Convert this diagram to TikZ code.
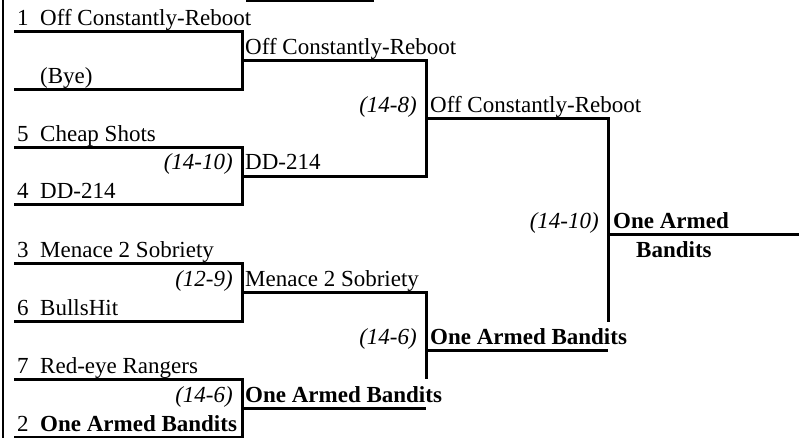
\documentclass[tikz,border=0pt]{standalone}
\usepackage{fontspec}
\setmainfont{Liberation Serif}
\begin{document}
\begin{tikzpicture}[x=1pt, y=-1pt,
  bline/.style={line width=3pt},
  team/.style={anchor=base west, inner sep=0pt, font=\fontsize{23}{27}\selectfont},
  win/.style={anchor=base west, inner sep=0pt, font=\fontsize{23}{27}\selectfont\bfseries},
  score/.style={anchor=base east, inner sep=0pt, font=\fontsize{23}{27}\selectfont\itshape}]
  \useasboundingbox (0,0) rectangle (799,438);

  % Frame
  \coordinate (F0) at (3,0);
  \coordinate (F1) at (3,438);
  \draw[line width=2pt] (F0) -- (F1);
  \coordinate (H0) at (246,1);
  \coordinate (H1) at (374,1);
  \draw[bline] (H0) -- (H1);

  % First round
  \coordinate (A1) at (14,32);
  \coordinate (A2) at (14,90);
  \coordinate (A3) at (14,148);
  \coordinate (A4) at (14,205);
  \coordinate (A5) at (14,263);
  \coordinate (A6) at (14,321);
  \coordinate (A7) at (14,379);
  \coordinate (A8) at (14,437);
  \draw[bline] (A1) -- (242,32) |- (A2);
  \draw[bline] (A3) -- (242,148) |- (A4);
  \draw[bline] (A5) -- (242,263) |- (A6);
  \draw[bline] (A7) -- (242,379) |- (A8);

  % Second round
  \coordinate (B1) at (242,61);
  \coordinate (B2) at (242,176.5);
  \coordinate (B3) at (242,292);
  \coordinate (B4) at (242,408);
  \coordinate (B4e) at (426,408);
  \draw[bline] (B1) -- (426,61) |- (B2);
  \draw[bline] (B3) -- (426,292) -- (426,379);
  \draw[bline] (B4) -- (B4e);

  % Third round
  \coordinate (C1) at (426,119);
  \coordinate (C2) at (426,350);
  \coordinate (C2e) at (608,350);
  \draw[bline] (C1) -- (608,119) -- (608,322);
  \draw[bline] (C2) -- (C2e);

  % Final
  \coordinate (D1) at (608,234.5);
  \coordinate (D1e) at (799,234.5);
  \draw[bline] (D1) -- (D1e);

  % Seeds
  \node[team] (s1) at (17,26) {1};
  \node[team] (s5) at (17,142) {5};
  \node[team] (s4) at (17,199) {4};
  \node[team] (s3) at (17,257) {3};
  \node[team] (s6) at (17,315) {6};
  \node[team] (s7) at (17,373) {7};
  \node[team] (s2) at (17,431) {2};

  % Teams
  \node[team] (t1) at (40,26) {Off Constantly-Reboot};
  \node[team] (t8) at (40,84) {(Bye)};
  \node[team] (t5) at (40,142) {Cheap Shots};
  \node[team] (t4) at (40,199) {DD-214};
  \node[team] (t3) at (40,257) {Menace 2 Sobriety};
  \node[team] (t6) at (40,315) {BullsHit};
  \node[team] (t7) at (40,373) {Red-eye Rangers};
  \node[win] (t2) at (40,431) {One Armed Bandits};

  \node[team] (w1) at (245,55) {Off Constantly-Reboot};
  \node[team] (w2) at (245,170) {DD-214};
  \node[team] (w3) at (245,286) {Menace 2 Sobriety};
  \node[win] (w4) at (245,402) {One Armed Bandits};

  \node[team] (v1) at (430,113) {Off Constantly-Reboot};
  \node[win] (v2) at (430,344) {One Armed Bandits};

  \node[win] (champ) at (613,228) {One Armed};
  \node[win] (champb) at (636,257) {Bandits};

  % Scores
  \node[score] (g2) at (233,170) {(14-10)};
  \node[score] (g3) at (233,286) {(12-9)};
  \node[score] (g4) at (233,402) {(14-6)};
  \node[score] (h1) at (417,113) {(14-8)};
  \node[score] (h2) at (417,344) {(14-6)};
  \node[score] (k1) at (599,228) {(14-10)};
\end{tikzpicture}
\end{document}
